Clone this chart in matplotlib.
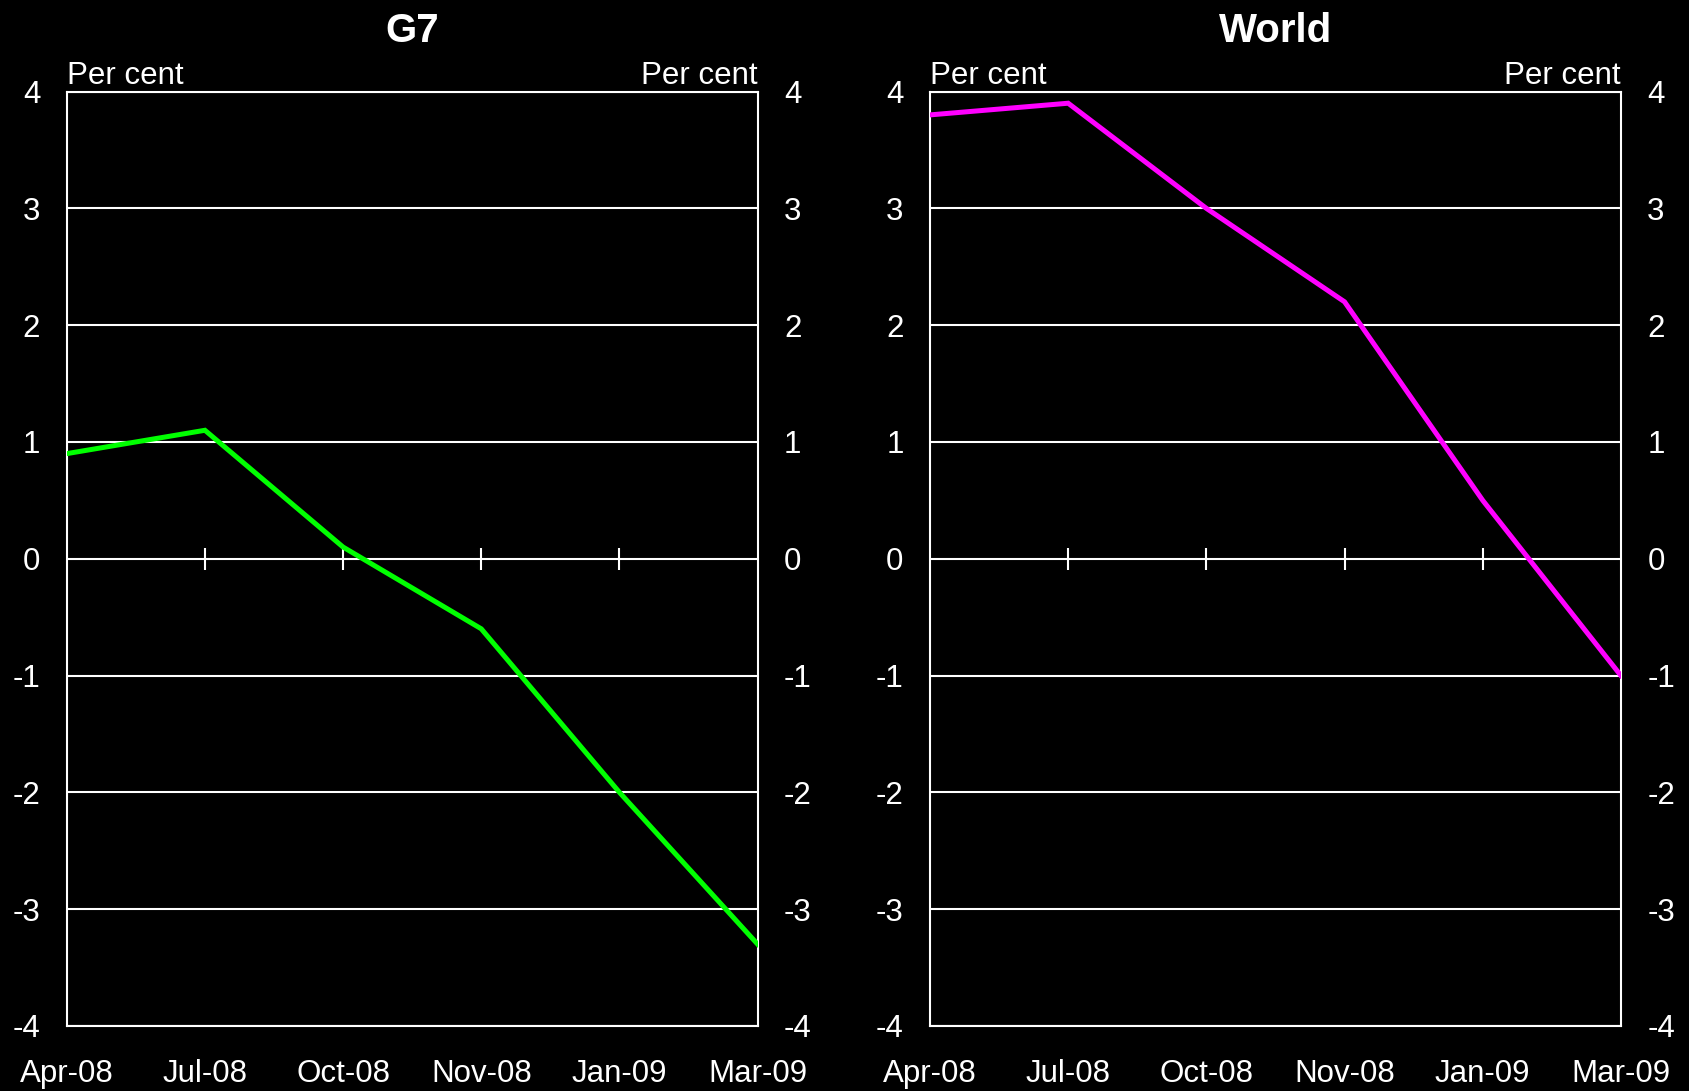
import numpy as np
import matplotlib.pyplot as plt

plt.rcParams['font.family'] = ['Liberation Sans', 'DejaVu Sans']

# Data
months = ['Apr-08', 'Jul-08', 'Oct-08', 'Nov-08', 'Jan-09', 'Mar-09']
g7 = [0.9, 1.1, 0.1, -0.6, -2.0, -3.3]
world = [3.8, 3.9, 3.0, 2.2, 0.5, -1.0]
yticks = [-4, -3, -2, -1, 0, 1, 2, 3, 4]

panels = [('G7', g7, '#00ff00'), ('World', world, '#ff00ff')]

fig = plt.figure(figsize=(16.9, 10.91), dpi=100, facecolor='black')
lefts = [0.0395, 0.5503]

x = np.arange(len(months))

for left, (title, vals, col) in zip(lefts, panels):
    ax = fig.add_axes([left, 0.0596, 0.4088, 0.8565])
    ax.set_facecolor('black')

    # grid lines
    for yv in yticks:
        ax.axhline(yv, color='white', lw=1.5, zorder=1)
    # small tick marks on the zero line
    ax.plot(x[1:-1], np.zeros(len(x) - 2), ls='none', marker='|',
            ms=16, mew=1.5, color='white', zorder=2)

    ax.plot(x, vals, color=col, lw=3.6, zorder=3, solid_joinstyle='miter')

    ax.set_xlim(0, len(months) - 1)
    ax.set_ylim(-4, 4)
    ax.set_xticks(x)
    ax.set_xticklabels(months)
    ax.set_yticks(yticks)
    ax.set_yticklabels([str(v) for v in yticks])
    ax.tick_params(axis='x', length=0, pad=24, colors='white', labelsize=22.5)
    ax.tick_params(axis='y', length=0, pad=19, colors='white', labelsize=22.5,
                   labelright=True, right=True)
    for s in ax.spines.values():
        s.set_color('white')
        s.set_linewidth(1.5)

    ax.text(0, 1.001, 'Per cent', transform=ax.transAxes, ha='left',
            va='bottom', color='white', fontsize=22.5)
    ax.text(1, 1.001, 'Per cent', transform=ax.transAxes, ha='right',
            va='bottom', color='white', fontsize=22.5)
    ax.set_title(title, color='white', fontsize=29, fontweight='bold', pad=36)

fig.savefig('out.png', dpi=100, facecolor='black')
